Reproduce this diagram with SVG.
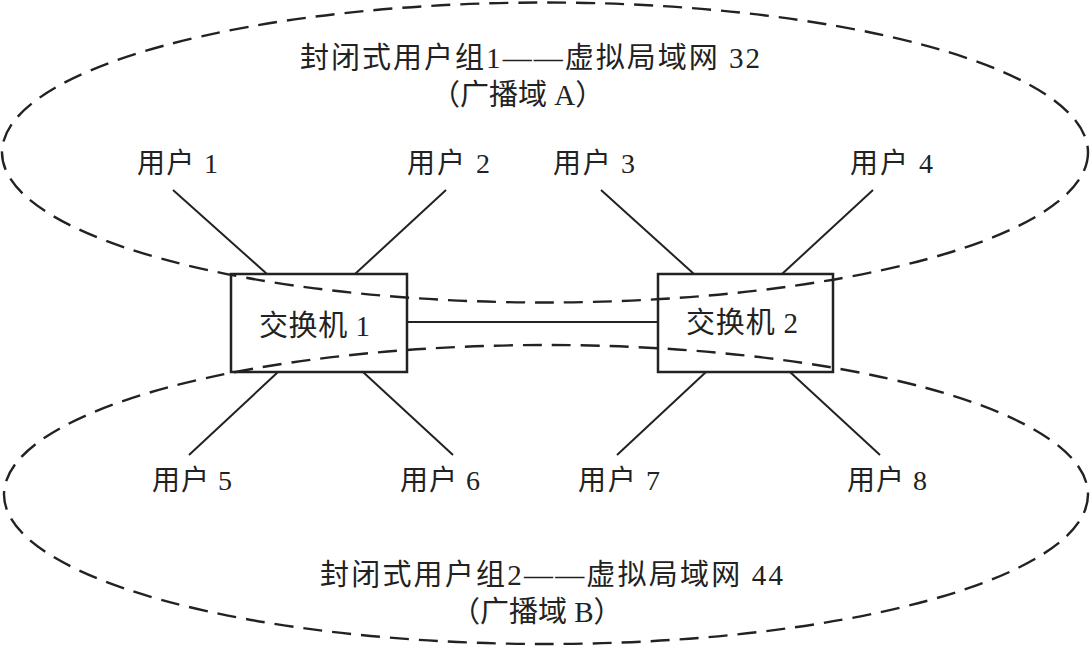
<svg xmlns="http://www.w3.org/2000/svg" width="1090" height="647" viewBox="0 0 1090 647">
<style>
.dash{fill:none;stroke:#222;stroke-width:2.4;stroke-dasharray:19 10}
.box{fill:#fff;stroke:#222;stroke-width:2.5}
.ln{stroke:#222;stroke-width:2;fill:none}
text{font-family:"Liberation Serif","Noto Sans CJK SC",serif;fill:#222}
.u{font-size:28px}
.s{font-size:29px}
.t{font-size:29px}
</style>
<rect width="1090" height="647" fill="#fff"/>
<g id="switch1"><rect class="box" x="231" y="274" width="176" height="98"/><text class="s" x="259" y="336" textLength="111" lengthAdjust="spacing">交换机 1</text></g>
<g id="switch2"><rect class="box" x="658" y="274" width="175" height="98"/><text class="s" x="686" y="333" textLength="112" lengthAdjust="spacing">交换机 2</text></g>
<g id="domainA"><ellipse class="dash" cx="545" cy="152.5" rx="543" ry="150"/>
<text class="t" x="300" y="68" textLength="460" lengthAdjust="spacing">封闭式用户组1——虚拟局域网 32</text>
<text class="t" x="431" y="105">（广播域 A）</text></g>
<g id="domainB"><ellipse class="dash" cx="546" cy="494.5" rx="542" ry="149.5"/>
<text class="t" x="320" y="585" textLength="463" lengthAdjust="spacing">封闭式用户组2——虚拟局域网 44</text>
<text class="t" x="451" y="622">（广播域 B）</text></g>
<g id="user1"><text class="u" x="137" y="173" textLength="81" lengthAdjust="spacing">用户 1</text></g>
<g id="user2"><text class="u" x="407" y="173" textLength="83" lengthAdjust="spacing">用户 2</text></g>
<g id="user3"><text class="u" x="553" y="173" textLength="82" lengthAdjust="spacing">用户 3</text></g>
<g id="user4"><text class="u" x="850" y="173" textLength="83" lengthAdjust="spacing">用户 4</text></g>
<g id="user5"><text class="u" x="152" y="490" textLength="80" lengthAdjust="spacing">用户 5</text></g>
<g id="user6"><text class="u" x="400" y="490" textLength="80" lengthAdjust="spacing">用户 6</text></g>
<g id="user7"><text class="u" x="578" y="490" textLength="82" lengthAdjust="spacing">用户 7</text></g>
<g id="user8"><text class="u" x="847" y="490" textLength="80" lengthAdjust="spacing">用户 8</text></g>
<g id="connectors">
<line class="ln" x1="407" y1="322" x2="658" y2="322"/>
<line class="ln" x1="173" y1="190" x2="267" y2="274"/>
<line class="ln" x1="446" y1="190" x2="355" y2="274"/>
<line class="ln" x1="601" y1="190" x2="694" y2="274"/>
<line class="ln" x1="873" y1="190" x2="782" y2="274"/>
<line class="ln" x1="278" y1="372" x2="189" y2="455"/>
<line class="ln" x1="363" y1="372" x2="453" y2="455"/>
<line class="ln" x1="706" y1="372" x2="617" y2="455"/>
<line class="ln" x1="790" y1="372" x2="880" y2="455"/>
</g>
</svg>
